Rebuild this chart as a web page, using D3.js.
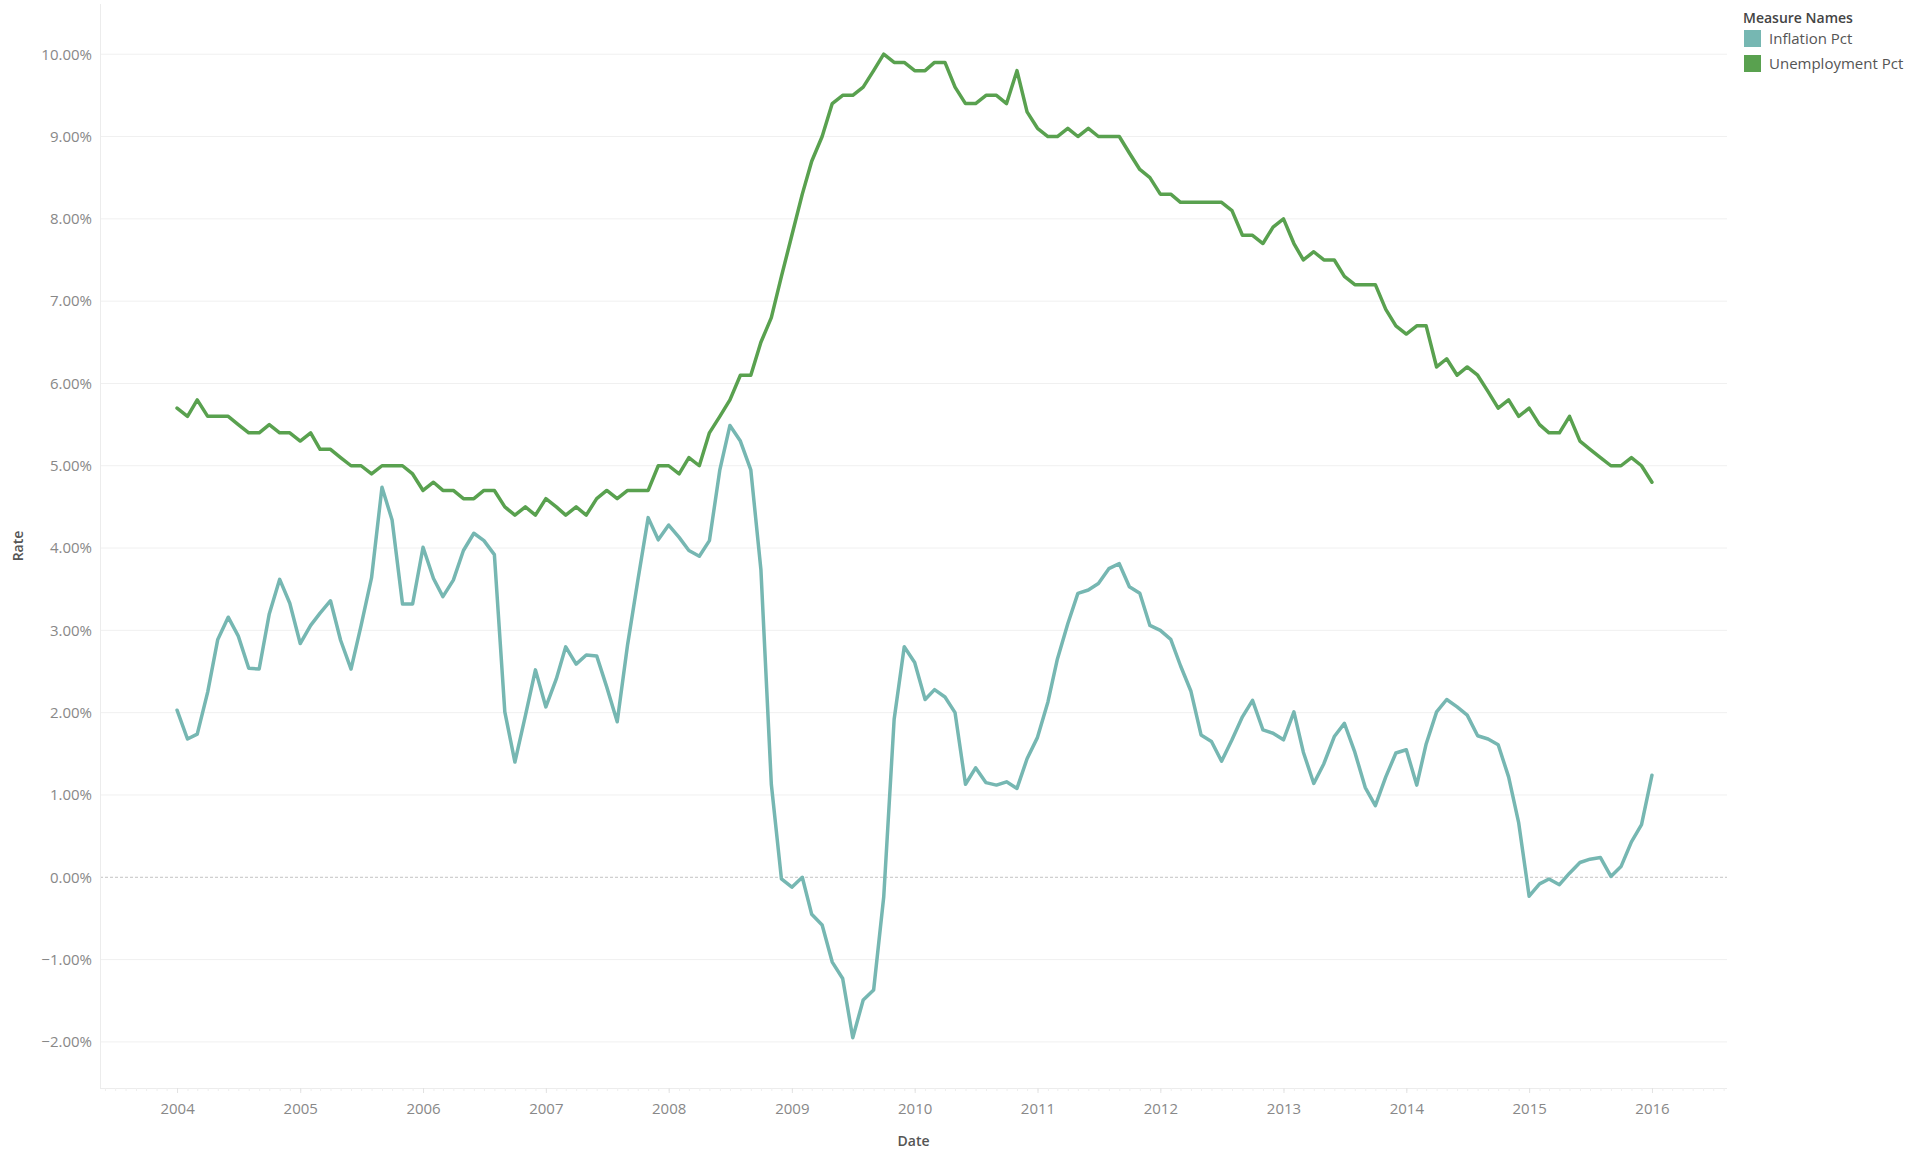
<!DOCTYPE html>
<html>
<head>
<meta charset="utf-8">
<script src="https://cdn.jsdelivr.net/npm/d3@7"></script>
<style>
  body { margin: 0; background: #fff; }
  svg { display: block; font-family: "Open Sans", "DejaVu Sans", sans-serif; }
</style>
</head>
<body>
<svg id="chart" width="1927" height="1150"></svg>
<script>
// monthly, Jan 2004 .. Jan 2016 (percent)
const startMonth = new Date(2004, 0, 1);

const inflationPct = [
  2.03, 1.68, 1.74, 2.25, 2.89, 3.16, 2.93, 2.54, 2.53, 3.20, 3.62, 3.33,
  2.84, 3.06, 3.21, 3.36, 2.88, 2.53, 3.06, 3.64, 4.74, 4.34, 3.32, 3.32,
  4.01, 3.63, 3.41, 3.61, 3.97, 4.18, 4.09, 3.92, 2.01, 1.40, 1.96, 2.52,
  2.07, 2.41, 2.80, 2.59, 2.70, 2.69, 2.31, 1.89, 2.83, 3.60, 4.37, 4.10,
  4.28, 4.13, 3.97, 3.90, 4.09, 4.95, 5.49, 5.30, 4.95, 3.74, 1.13, -0.02,
  -0.12, 0.00, -0.45, -0.58, -1.03, -1.23, -1.95, -1.49, -1.37, -0.24, 1.92, 2.80,
  2.61, 2.16, 2.28, 2.19, 2.00, 1.13, 1.33, 1.15, 1.12, 1.16, 1.08, 1.44,
  1.70, 2.13, 2.65, 3.08, 3.45, 3.49, 3.57, 3.75, 3.81, 3.53, 3.45, 3.06,
  3.00, 2.89, 2.57, 2.26, 1.73, 1.65, 1.41, 1.67, 1.95, 2.15, 1.79, 1.75,
  1.67, 2.01, 1.52, 1.14, 1.38, 1.71, 1.87, 1.52, 1.09, 0.87, 1.22, 1.51,
  1.55, 1.12, 1.62, 2.01, 2.16, 2.07, 1.97, 1.72, 1.68, 1.61, 1.22, 0.66,
  -0.23, -0.08, -0.02, -0.09, 0.05, 0.18, 0.22, 0.24, 0.01, 0.13, 0.43, 0.64,
  1.24
];

const unemploymentPct = [
  5.7, 5.6, 5.8, 5.6, 5.6, 5.6, 5.5, 5.4, 5.4, 5.5, 5.4, 5.4,
  5.3, 5.4, 5.2, 5.2, 5.1, 5.0, 5.0, 4.9, 5.0, 5.0, 5.0, 4.9,
  4.7, 4.8, 4.7, 4.7, 4.6, 4.6, 4.7, 4.7, 4.5, 4.4, 4.5, 4.4,
  4.6, 4.5, 4.4, 4.5, 4.4, 4.6, 4.7, 4.6, 4.7, 4.7, 4.7, 5.0,
  5.0, 4.9, 5.1, 5.0, 5.4, 5.6, 5.8, 6.1, 6.1, 6.5, 6.8, 7.3,
  7.8, 8.3, 8.7, 9.0, 9.4, 9.5, 9.5, 9.6, 9.8, 10.0, 9.9, 9.9,
  9.8, 9.8, 9.9, 9.9, 9.6, 9.4, 9.4, 9.5, 9.5, 9.4, 9.8, 9.3,
  9.1, 9.0, 9.0, 9.1, 9.0, 9.1, 9.0, 9.0, 9.0, 8.8, 8.6, 8.5,
  8.3, 8.3, 8.2, 8.2, 8.2, 8.2, 8.2, 8.1, 7.8, 7.8, 7.7, 7.9,
  8.0, 7.7, 7.5, 7.6, 7.5, 7.5, 7.3, 7.2, 7.2, 7.2, 6.9, 6.7,
  6.6, 6.7, 6.7, 6.2, 6.3, 6.1, 6.2, 6.1, 5.9, 5.7, 5.8, 5.6,
  5.7, 5.5, 5.4, 5.4, 5.6, 5.3, 5.2, 5.1, 5.0, 5.0, 5.1, 5.0,
  4.8
];

const yTicks = [-2, -1, 0, 1, 2, 3, 4, 5, 6, 7, 8, 9, 10];
const xTickYears = [2004, 2005, 2006, 2007, 2008, 2009, 2010, 2011, 2012, 2013, 2014, 2015, 2016];
const seriesNames = ["Inflation Pct", "Unemployment Pct"];
const seriesColors = ["#76b7b2", "#59a14f"];

const plot = {left: 100, right: 1727, top: 4, bottom: 1088};

const months = inflationPct.map((v, i) => d3.timeMonth.offset(startMonth, i));

const x = d3.scaleTime()
    .domain([new Date(2003, 4, 17), new Date(2016, 7, 11)])
    .range([plot.left, plot.right]);
const y = d3.scaleLinear()
    .domain([-2.56, 10.61])
    .range([plot.bottom, plot.top]);

const svg = d3.select("#chart");

// gridlines
svg.append("g")
    .selectAll("line")
    .data(yTicks.filter(d => d !== 0))
    .join("line")
    .attr("x1", plot.left).attr("x2", plot.right)
    .attr("y1", d => y(d)).attr("y2", d => y(d))
    .attr("stroke", "#f0f0f0")
    .attr("stroke-width", 1);

// zero line
svg.append("line")
    .attr("x1", plot.left).attr("x2", plot.right)
    .attr("y1", y(0)).attr("y2", y(0))
    .attr("stroke", "#c4c4c4")
    .attr("stroke-dasharray", "3,2")
    .attr("stroke-width", 1);

// axis frame
svg.append("line")
    .attr("x1", plot.left + 0.5).attr("x2", plot.left + 0.5)
    .attr("y1", plot.top).attr("y2", plot.bottom)
    .attr("stroke", "#ececec");
svg.append("line")
    .attr("x1", plot.left).attr("x2", plot.right)
    .attr("y1", plot.bottom + 0.5).attr("y2", plot.bottom + 0.5)
    .attr("stroke", "#ececec");

// y axis
const yAxis = d3.axisLeft(y)
    .tickValues(yTicks)
    .tickSize(0)
    .tickPadding(8)
    .tickFormat(d => d3.format(".2f")(d) + "%");
svg.append("g")
    .attr("transform", `translate(${plot.left},0)`)
    .call(yAxis)
    .call(g => g.select(".domain").remove())
    .call(g => g.selectAll("text")
        .attr("fill", "#888")
        .style("font-size", "15px")
        .style("font-family", "'Open Sans', sans-serif"));

// x axis: year ticks + faint monthly minor ticks
svg.append("g")
    .attr("transform", `translate(0,${plot.bottom})`)
    .call(d3.axisBottom(x).ticks(d3.timeMonth.every(1)).tickSize(3).tickFormat(""))
    .call(g => g.select(".domain").remove())
    .call(g => g.selectAll("line").attr("stroke", "#efefef"));

const xAxis = d3.axisBottom(x)
    .tickValues(xTickYears.map(yr => new Date(yr, 0, 1)))
    .tickSize(5)
    .tickPadding(10)
    .tickFormat(d3.timeFormat("%Y"));
svg.append("g")
    .attr("transform", `translate(0,${plot.bottom})`)
    .call(xAxis)
    .call(g => g.select(".domain").remove())
    .call(g => g.selectAll("line").attr("stroke", "#e2e2e2"))
    .call(g => g.selectAll("text")
        .attr("fill", "#888")
        .style("font-size", "15px")
        .style("font-family", "'Open Sans', sans-serif"));

// axis titles
svg.append("text")
    .attr("transform", `translate(18,${(plot.top + plot.bottom) / 2}) rotate(-90)`)
    .attr("text-anchor", "middle")
    .attr("dy", "0.35em")
    .attr("fill", "#555")
    .style("font-size", "14px")
    .style("font-weight", "600")
    .text("Rate");
svg.append("text")
    .attr("x", (plot.left + plot.right) / 2)
    .attr("y", 1141)
    .attr("text-anchor", "middle")
    .attr("dy", "0.35em")
    .attr("fill", "#555")
    .style("font-size", "14px")
    .style("font-weight", "600")
    .text("Date");

// lines
const line = d3.line()
    .x(d => x(d.date))
    .y(d => y(d.value));

[inflationPct, unemploymentPct].forEach((values, i) => {
    const pts = values.map((v, j) => ({date: months[j], value: v}));
    svg.append("path")
        .datum(pts)
        .attr("d", line)
        .attr("fill", "none")
        .attr("stroke", seriesColors[i])
        .attr("stroke-width", 3.5)
        .attr("stroke-linejoin", "round")
        .attr("stroke-linecap", "round");
});

// legend
const legend = svg.append("g").attr("transform", "translate(1743,0)");
legend.append("text")
    .attr("x", 0).attr("y", 18)
    .attr("dy", "0.35em")
    .attr("fill", "#444")
    .style("font-size", "14px")
    .style("font-weight", "600")
    .text("Measure Names");
const items = legend.selectAll("g.item")
    .data(seriesNames)
    .join("g")
    .attr("class", "item")
    .attr("transform", (d, i) => `translate(0,${30 + i * 25})`);
items.append("rect")
    .attr("x", 1).attr("y", 0)
    .attr("width", 17).attr("height", 17)
    .attr("fill", (d, i) => seriesColors[i]);
items.append("text")
    .attr("x", 26).attr("y", 9)
    .attr("dy", "0.35em")
    .attr("fill", "#555")
    .style("font-size", "15px")
    .text(d => d);
</script>
</body>
</html>
